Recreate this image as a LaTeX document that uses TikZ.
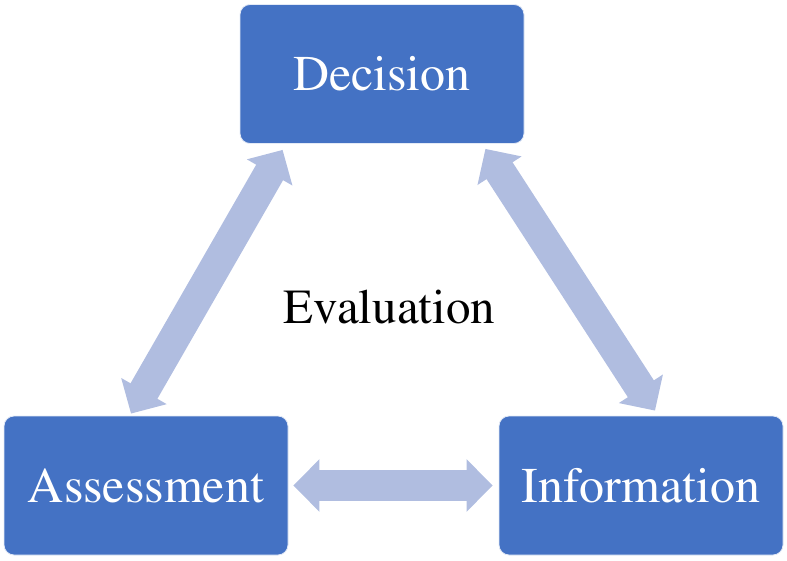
\documentclass[tikz,border=0pt]{standalone}
\usepackage[T1]{fontenc}
\usepackage{mathptmx}
\usetikzlibrary{positioning,calc,arrows.meta}

\definecolor{boxblue}{RGB}{68,114,196}
\definecolor{linkblue}{RGB}{176,189,224}

\tikzset{
	box/.style={draw=white!85!boxblue,line width=0.8pt,fill=boxblue,rounded corners=10pt,minimum width=284pt,minimum height=139pt,inner sep=0pt,text=white,font=\rmfamily\fontsize{50}{60}\selectfont},
	link/.style={draw=linkblue,line width=31pt,{Triangle[width=51pt,length=26pt]}-{Triangle[width=51pt,length=26pt]}}
}

\begin{document}
\begin{tikzpicture}
		\useasboundingbox (0,0) rectangle (787pt,560pt);
		\node[box] (dec) at (382pt,486pt) {Decision};
		\node[box] (ass) at (146pt,74.5pt) {Assessment};
		\node[box] (inf) at (641pt,74.5pt) {Information};
		\node[font=\rmfamily\fontsize{49}{58}\selectfont] (eval) at (389.5pt,253pt) {Evaluation};

		\coordinate (dl) at ($(dec.south west)+(43pt,-6pt)$);
		\coordinate (al) at ($(ass.north)+(-15pt,2pt)$);
		\coordinate (dr) at ($(dec.south east)+(-39pt,-5pt)$);
		\coordinate (ir) at ($(inf.north)+(14pt,5pt)$);

		\draw[link] (dl) -- (al);
		\draw[link] (dr) -- (ir);
		\draw[link,shorten <=5pt,shorten >=6pt] (ass) -- (inf);
	\end{tikzpicture}
\end{document}
